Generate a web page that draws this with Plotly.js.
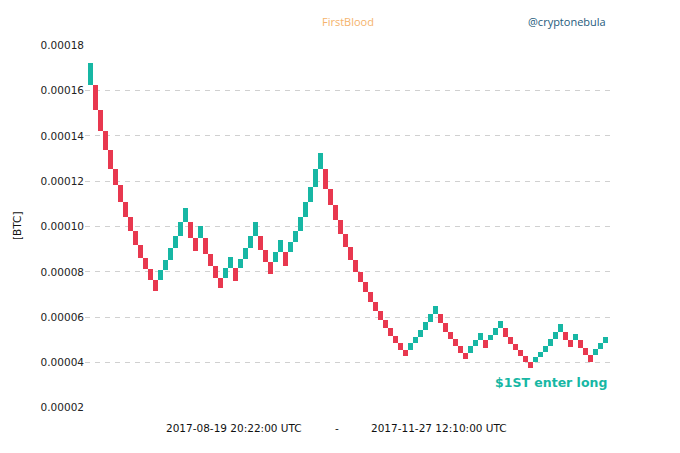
<!DOCTYPE html>
<html>
<head>
<meta charset="utf-8">
<script src="https://cdn.plot.ly/plotly-3.0.1.min.js"></script>
<style>html,body{margin:0;padding:0;background:#fff;}#chart{width:680px;height:453px;}</style>
</head>
<body>
<div id="chart"></div>
<script>
// Renko bricks, in BTC (open / close of each brick)
var brickOpen = [
  0.00016265, 0.00016265, 0.00015161, 0.00014234, 0.00013395, 0.00012556, 0.00011823, 0.00011086, 0.00010424, 0.00009793,
  0.00009174, 0.00008614, 0.00008115, 0.00007656, 0.00007656, 0.00008062, 0.00008539, 0.00009046, 0.00009598, 0.00010203,
  0.00010203, 0.00009497, 0.00009497, 0.00009497, 0.00008790, 0.00008247, 0.00007744, 0.00007744, 0.00008159, 0.00008159,
  0.00008159, 0.00008561, 0.00009068, 0.00009598, 0.00009598, 0.00008967, 0.00008437, 0.00008437, 0.00008865, 0.00008865,
  0.00008865, 0.00009307, 0.00009819, 0.00010437, 0.00011099, 0.00011762, 0.00012530, 0.00012530, 0.00011647, 0.00010954,
  0.00010291, 0.00009660, 0.00009077, 0.00008525, 0.00008009, 0.00007545, 0.00007091, 0.00006671, 0.00006265, 0.00005876,
  0.00005514, 0.00005170, 0.00004848, 0.00004552, 0.00004552, 0.00004848, 0.00005139, 0.00005448, 0.00005775, 0.00006132,
  0.00006132, 0.00005731, 0.00005347, 0.00005024, 0.00004715, 0.00004419, 0.00004419, 0.00004706, 0.00004980, 0.00004980,
  0.00004980, 0.00005214, 0.00005501, 0.00005501, 0.00005126, 0.00004817, 0.00004530, 0.00004265, 0.00004000, 0.00004000,
  0.00004243, 0.00004472, 0.00004737, 0.00005029, 0.00005333, 0.00005333, 0.00004993, 0.00004993, 0.00004993, 0.00004653,
  0.00004331, 0.00004331, 0.00004583, 0.00004848
];
var brickClose = [
  0.00017236, 0.00015161, 0.00014234, 0.00013395, 0.00012556, 0.00011823, 0.00011086, 0.00010424, 0.00009793, 0.00009174,
  0.00008614, 0.00008115, 0.00007656, 0.00007170, 0.00008062, 0.00008539, 0.00009046, 0.00009598, 0.00010203, 0.00010799,
  0.00009497, 0.00008914, 0.00010004, 0.00008790, 0.00008247, 0.00007744, 0.00007276, 0.00008159, 0.00008671, 0.00007612,
  0.00008561, 0.00009068, 0.00009598, 0.00010203, 0.00008967, 0.00008437, 0.00007907, 0.00008865, 0.00009408, 0.00008247,
  0.00009307, 0.00009819, 0.00010437, 0.00011099, 0.00011762, 0.00012530, 0.00013236, 0.00011647, 0.00010954, 0.00010291,
  0.00009660, 0.00009077, 0.00008525, 0.00008009, 0.00007545, 0.00007091, 0.00006671, 0.00006265, 0.00005876, 0.00005514,
  0.00005170, 0.00004848, 0.00004552, 0.00004265, 0.00004848, 0.00005139, 0.00005448, 0.00005775, 0.00006132, 0.00006494,
  0.00005731, 0.00005347, 0.00005024, 0.00004715, 0.00004419, 0.00004154, 0.00004706, 0.00004980, 0.00005280, 0.00004627,
  0.00005214, 0.00005501, 0.00005846, 0.00005126, 0.00004817, 0.00004530, 0.00004265, 0.00004000, 0.00003744, 0.00004243,
  0.00004472, 0.00004737, 0.00005029, 0.00005333, 0.00005678, 0.00004993, 0.00004671, 0.00005258, 0.00004653, 0.00004331,
  0.00004035, 0.00004583, 0.00004848, 0.00005139
];
var yTickValues = [0.00002, 0.00004, 0.00006, 0.00008, 0.00010, 0.00012, 0.00014, 0.00016, 0.00018];
var yTickLabels = ["0.00002", "0.00004", "0.00006", "0.00008", "0.00010", "0.00012", "0.00014", "0.00016", "0.00018"];
var periodStart = "2017-08-19 20:22:00 UTC";
var periodEnd = "2017-11-27 12:10:00 UTC";
var coinName = "FirstBlood";
var author = "@cryptonebula";
var signalText = "$1ST enter long";
var unitLabel = "[BTC]";

var UP = "#17b7a4", DOWN = "#e8384f";
var xs = [], heights = [], colors = [];
for (var i = 0; i < brickOpen.length; i++) {
  xs.push(i);
  heights.push(brickClose[i] - brickOpen[i]);
  colors.push(brickClose[i] >= brickOpen[i] ? UP : DOWN);
}

var trace = {
  type: "bar",
  x: xs,
  y: heights,
  base: brickOpen,
  width: 1,
  marker: {color: colors, line: {width: 0}},
  hoverinfo: "skip",
  showlegend: false
};

var L = 85, R = 70, T = 45, B = 45, W = 680, H = 453;
var pw = W - L - R, ph = H - T - B;
function px(x) { return (x - L) / pw; }
function py(y) { return (H - B - y) / ph; }

var baseFont = "DejaVu Sans, sans-serif";
var layout = {
  width: W, height: H,
  margin: {l: L, r: R, t: T, b: B, pad: 0},
  paper_bgcolor: "#ffffff",
  plot_bgcolor: "#ffffff",
  bargap: 0,
  xaxis: {
    range: [-1.04, 103.96],
    showgrid: false, zeroline: false, showline: false,
    showticklabels: false, ticks: ""
  },
  yaxis: {
    range: [0.0000199, 0.0001801],
    tickvals: yTickValues,
    ticktext: yTickLabels,
    showgrid: true, gridcolor: "#d0d0d0", gridwidth: 1, griddash: "5px,5px",
    zeroline: false, showline: false, ticks: "",
    tickfont: {family: baseFont, size: 10.5, color: "#222222"}
  },
  annotations: [
    {text: coinName, xref: "paper", yref: "paper", x: px(348), y: py(21.5), xanchor: "center", yanchor: "middle",
     showarrow: false, font: {family: "Open Sans, sans-serif", size: 11, color: "#f5b36c"}},
    {text: author, xref: "paper", yref: "paper", x: px(608), y: py(21.5), xanchor: "right", yanchor: "middle",
     showarrow: false, font: {family: "Open Sans, sans-serif", size: 11, color: "#255b7c"}},
    {text: periodStart, xref: "paper", yref: "paper", x: px(234.2), y: py(427.5), xanchor: "center", yanchor: "middle",
     showarrow: false, font: {family: baseFont, size: 10.5, color: "#111111"}},
    {text: "-", xref: "paper", yref: "paper", x: px(336.5), y: py(427.5), xanchor: "center", yanchor: "middle",
     showarrow: false, font: {family: baseFont, size: 10.5, color: "#111111"}},
    {text: periodEnd, xref: "paper", yref: "paper", x: px(439.2), y: py(427.5), xanchor: "center", yanchor: "middle",
     showarrow: false, font: {family: baseFont, size: 10.5, color: "#111111"}},
    {text: "<b>" + signalText + "</b>", xref: "paper", yref: "paper", x: px(609), y: py(382), xanchor: "right", yanchor: "middle",
     showarrow: false, font: {family: baseFont, size: 12.5, color: UP}},
    {text: unitLabel, xref: "paper", yref: "paper", x: px(17), y: py(226), xanchor: "center", yanchor: "middle",
     textangle: -90, showarrow: false, font: {family: baseFont, size: 10.5, color: "#111111"}}
  ]
};

Plotly.newPlot("chart", [trace], layout, {staticPlot: true, displayModeBar: false});
</script>
</body>
</html>
